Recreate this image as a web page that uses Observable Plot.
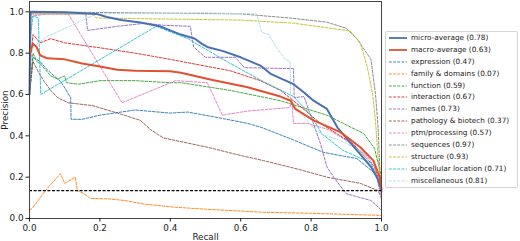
<!DOCTYPE html>
<html>
<head>
<meta charset="utf-8">
<script src="https://cdn.jsdelivr.net/npm/d3@7"></script>
<script src="https://cdn.jsdelivr.net/npm/@observablehq/plot@0.6"></script>
<style>
  body { margin: 0; background: #fff; font-family: "DejaVu Sans", sans-serif; }
  #wrap { position: relative; width: 520px; height: 241px; }
  #legend { position: absolute; left: 385px; top: 31px; width: 133px; height: 157px;
            border: 1px solid #d4d4d4; border-radius: 2px; background: #fff; box-sizing: border-box; }
  .row { position: absolute; left: 0; height: 10px; font-size: 7.3px; color: #222; white-space: nowrap; }
  .row svg { position: absolute; left: 2px; top: 0; }
  .row span { position: absolute; left: 25px; top: 0; line-height: 10px; }
</style>
</head>
<body>
<div id="wrap"></div>
<script>
// ---- data (recall, precision) ----
const xTicks = [0, 0.2, 0.4, 0.6, 0.8, 1.0];
const yTicks = [0, 0.2, 0.4, 0.6, 0.8, 1.0];
const baseline = [0.135];

const micro = [[0,0.6],[0.003,1.0],[0.1,0.998],[0.19,0.99],[0.22,0.975],[0.26,0.96],[0.315,0.948],[0.37,0.93],[0.43,0.89],[0.47,0.87],[0.49,0.845],[0.505,0.83],[0.55,0.81],[0.6,0.78],[0.656,0.74],[0.685,0.70],[0.75,0.65],[0.78,0.61],[0.807,0.57],[0.845,0.53],[0.875,0.44],[0.93,0.33],[0.97,0.25],[0.99,0.19],[1.0,0.13]];
const macro = [[0,0.8],[0.01,0.845],[0.02,0.83],[0.03,0.79],[0.05,0.775],[0.1,0.77],[0.15,0.75],[0.2,0.735],[0.25,0.72],[0.3,0.715],[0.4,0.712],[0.43,0.705],[0.52,0.67],[0.62,0.635],[0.713,0.59],[0.742,0.57],[0.755,0.53],[0.807,0.475],[0.883,0.418],[0.94,0.345],[0.977,0.28],[0.995,0.2],[1.0,0.14]];
const expression = [[0,0.6],[0.01,0.78],[0.03,0.76],[0.05,0.72],[0.07,0.69],[0.09,0.66],[0.117,0.585],[0.118,0.48],[0.15,0.48],[0.2,0.5],[0.3,0.525],[0.4,0.51],[0.45,0.515],[0.53,0.49],[0.62,0.46],[0.66,0.44],[0.75,0.38],[0.835,0.32],[0.93,0.29],[0.98,0.22],[1.0,0.15]];
const family = [[0,0.04],[0.008,0.05],[0.017,0.07],[0.045,0.135],[0.088,0.217],[0.1,0.17],[0.13,0.2],[0.136,0.135],[0.155,0.12],[0.173,0.097],[0.225,0.095],[0.27,0.087],[0.325,0.07],[0.41,0.055],[0.5,0.045],[0.665,0.03],[0.8,0.025],[1.0,0.015]];
const func = [[0,0.62],[0.01,0.8],[0.02,0.76],[0.03,0.75],[0.06,0.69],[0.08,0.675],[0.1,0.69],[0.105,0.657],[0.14,0.65],[0.2,0.667],[0.3,0.667],[0.4,0.657],[0.43,0.657],[0.57,0.62],[0.713,0.57],[0.807,0.52],[0.845,0.5],[0.88,0.47],[0.95,0.41],[0.98,0.34],[1.0,0.2]];
const interaction = [[0,0.7],[0.01,0.89],[0.03,0.85],[0.06,0.87],[0.1,0.85],[0.2,0.826],[0.3,0.8],[0.4,0.77],[0.43,0.76],[0.57,0.715],[0.656,0.667],[0.713,0.62],[0.75,0.57],[0.827,0.46],[0.92,0.36],[0.98,0.25],[1.0,0.15]];
const names = [[0,0.97],[0.005,0.99],[0.16,0.99],[0.165,0.91],[0.25,0.93],[0.33,0.945],[0.38,0.935],[0.457,0.93],[0.466,0.83],[0.5,0.78],[0.585,0.78],[0.61,0.73],[0.75,0.725],[0.752,0.585],[0.78,0.59],[0.827,0.36],[0.845,0.25],[0.864,0.2],[0.9,0.12],[0.97,0.087],[1.0,0.04]];
const pathology = [[0,0.6],[0.01,0.76],[0.025,0.71],[0.04,0.667],[0.06,0.62],[0.08,0.585],[0.11,0.56],[0.18,0.546],[0.25,0.51],[0.315,0.475],[0.344,0.43],[0.38,0.39],[0.505,0.345],[0.6,0.305],[0.665,0.28],[0.76,0.24],[0.845,0.2],[0.94,0.17],[0.99,0.135],[1.0,0.1]];
const ptm = [[0,0.95],[0.01,0.98],[0.05,0.99],[0.11,0.99],[0.263,0.56],[0.415,0.667],[0.505,0.657],[0.548,0.5],[0.62,0.52],[0.74,0.537],[0.745,0.58],[0.75,0.46],[0.79,0.46],[0.85,0.43],[0.9,0.377],[0.96,0.3],[0.98,0.25],[1.0,0.09]];
const sequences = [[0,0.99],[0.01,1.0],[0.3,0.995],[0.6,0.99],[0.74,0.97],[0.845,0.95],[0.9,0.92],[0.93,0.87],[0.97,0.77],[0.983,0.6],[0.99,0.45],[0.995,0.25],[1.0,0.12]];
const structure = [[0,0.99],[0.18,0.99],[0.19,0.97],[0.4,0.965],[0.6,0.96],[0.75,0.945],[0.845,0.923],[0.91,0.908],[0.94,0.85],[0.96,0.73],[0.975,0.6],[0.983,0.47],[0.99,0.3],[1.0,0.12]];
const subcellular = [[0,0.85],[0.01,0.98],[0.025,0.97],[0.032,0.6],[0.36,0.93],[0.45,0.87],[0.55,0.77],[0.656,0.67],[0.75,0.59],[0.8,0.5],[0.83,0.41],[0.89,0.33],[0.97,0.27],[1.0,0.14]];
const misc = [[0,0.75],[0.01,0.83],[0.05,0.88],[0.19,0.99],[0.5,0.995],[0.645,0.99],[0.66,0.9],[0.68,0.89],[0.7,0.83],[0.727,0.77],[0.74,0.76],[0.742,0.57],[0.8,0.45],[0.827,0.41],[0.88,0.38],[0.95,0.32],[1.0,0.15]];

const labels = ["micro-average (0.78)","macro-average (0.63)","expression (0.47)","family & domains (0.07)","function (0.59)","interaction (0.67)","names (0.73)","pathology & biotech (0.37)","ptm/processing (0.57)","sequences (0.97)","structure (0.93)","subcellular location (0.71)","miscellaneous (0.81)"];
const colors = ["#4a70b4","#e0522d","#1f77b4","#ff7f0e","#2ca02c","#d62728","#9467bd","#8c564b","#e377c2","#7f7f7f","#bcbd22","#17becf","#a9dbe6"];
const seriesList = [micro, macro, expression, family, func, interaction, names, pathology, ptm, sequences, structure, subcellular, misc];

const dash = "2.7,1.5";
const styleOf = i => i < 2 ? {w: 2, d: null} : {w: 0.9, d: dash};

// draw class curves first, then averages on top
const order = [2,3,4,5,6,7,8,9,10,11,12,0,1];
const lineMarks = order.map(i => {
  const s = styleOf(i);
  return Plot.line(seriesList[i], {x: d => d[0], y: d => d[1], stroke: colors[i], strokeWidth: s.w, strokeDasharray: s.d});
});

const chart = Plot.plot({
  width: 520, height: 241,
  marginLeft: 29, marginRight: 139, marginTop: 1, marginBottom: 23,
  style: {fontFamily: "DejaVu Sans, sans-serif", background: "#fff", color: "#222"},
  x: {domain: [0, 1]},
  y: {domain: [0, 1.05]},
  marks: [
    ...lineMarks,
    Plot.ruleY(baseline, {stroke: "#000", strokeWidth: 1.1, strokeDasharray: "3,1.6"}),
    Plot.frame({stroke: "#444", strokeWidth: 1}),
    Plot.axisX({ticks: xTicks, tickFormat: d => d.toFixed(1), tickSize: 3.5, tickPadding: 2.5, fontSize: 8.8,
                label: "Recall", labelAnchor: "center", labelArrow: "none", labelOffset: 21}),
    Plot.axisY({ticks: yTicks, tickFormat: d => d.toFixed(1), tickSize: 3.5, tickPadding: 2.5, fontSize: 8.8,
                label: "Precision", labelAnchor: "center", labelArrow: "none", labelOffset: 28})
  ]
});
const wrap = document.getElementById("wrap");
wrap.appendChild(chart);

// legend
const leg = document.createElement("div");
leg.id = "legend";
labels.forEach((lab, i) => {
  const row = document.createElement("div");
  row.className = "row";
  row.style.top = (0.7 + i * 11.95) + "px";
  row.style.width = "130px";
  const s = styleOf(i);
  row.innerHTML = `<svg width="20" height="10"><line x1="1" x2="19" y1="5" y2="5" stroke="${colors[i]}" stroke-width="${s.w === 2 ? 1.8 : 0.9}" ${s.d ? `stroke-dasharray="${s.d}"` : ""}/></svg><span></span>`;
  row.querySelector("span").textContent = lab;
  leg.appendChild(row);
});
wrap.appendChild(leg);
</script>
</body>
</html>
